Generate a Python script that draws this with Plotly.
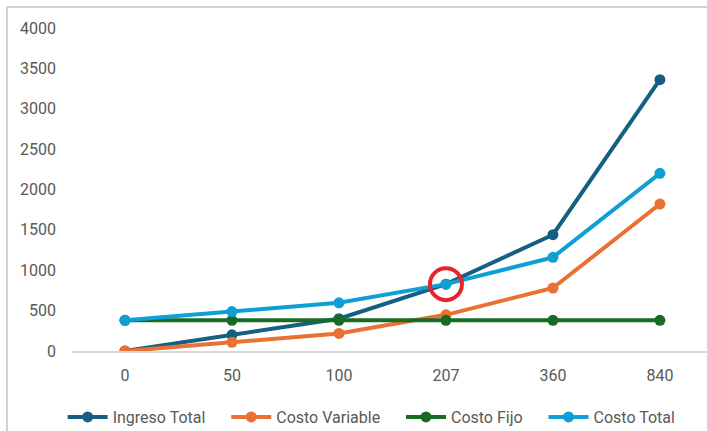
import plotly.graph_objects as go

categories = ["0", "50", "100", "207", "360", "840"]
ingreso_total = [0, 200, 400, 828, 1440, 3360]
costo_variable = [0, 108, 217, 448, 780, 1820]
costo_fijo = [380, 380, 380, 380, 380, 380]
costo_total = [380, 488, 597, 828, 1160, 2200]
y_ticks = [0, 500, 1000, 1500, 2000, 2500, 3000, 3500, 4000]

series = [
    ("Ingreso Total", ingreso_total, "#156082"),
    ("Costo Variable", costo_variable, "#E97132"),
    ("Costo Fijo", costo_fijo, "#196B24"),
    ("Costo Total", costo_total, "#0F9ED5"),
]

fig = go.Figure()
for name, vals, col in series:
    fig.add_trace(go.Scatter(
        x=categories, y=vals, name=name + "\u00a0" * 4, mode="lines+markers",
        line=dict(color=col, width=4),
        marker=dict(color=col, size=11),
    ))

# red highlight circle at break-even point
fig.add_shape(type="circle", xref="x", yref="y",
              xsizemode="pixel", ysizemode="pixel",
              xanchor=3, yanchor=costo_total[3],
              x0=-16, x1=16, y0=-16, y1=16,
              line=dict(color="#E8232A", width=4))

# outer chart frame (left/top visible)
fig.add_shape(type="line", xref="paper", yref="paper",
              x0=-0.1024, x1=-0.1024, y0=1.065, y1=-0.3,
              line=dict(color="#d0d0d0", width=2))
fig.add_shape(type="line", xref="paper", yref="paper",
              x0=-0.1024, x1=1.1, y0=1.065, y1=1.065,
              line=dict(color="#d0d0d0", width=2))

fig.update_layout(
    width=707, height=431,
    margin=dict(l=72, r=0, t=28, b=80, autoexpand=False),
    paper_bgcolor="white", plot_bgcolor="white",
    font=dict(family="Roboto, Arial, sans-serif", color="#595959", size=16),
    showlegend=True,
    legend=dict(orientation="h", xref="container", x=0.537, xanchor="center",
                yref="container", y=0.0325, yanchor="middle",
                font=dict(size=16, color="#595959"), itemwidth=40,
                traceorder="normal"),
    xaxis=dict(type="category", range=[-0.495, 5.44], showgrid=False,
               showline=True, linecolor="#d9d9d9", linewidth=1.5,
               ticks="", ticklabelstandoff=9, zeroline=False,
               tickfont=dict(size=16, color="#595959")),
    yaxis=dict(range=[0, 4000], tickvals=y_ticks, showgrid=False,
               showline=False, zeroline=False, ticks="",
               ticklabelstandoff=15,
               tickfont=dict(size=16, color="#595959")),
)

fig.write_html("out.html")
